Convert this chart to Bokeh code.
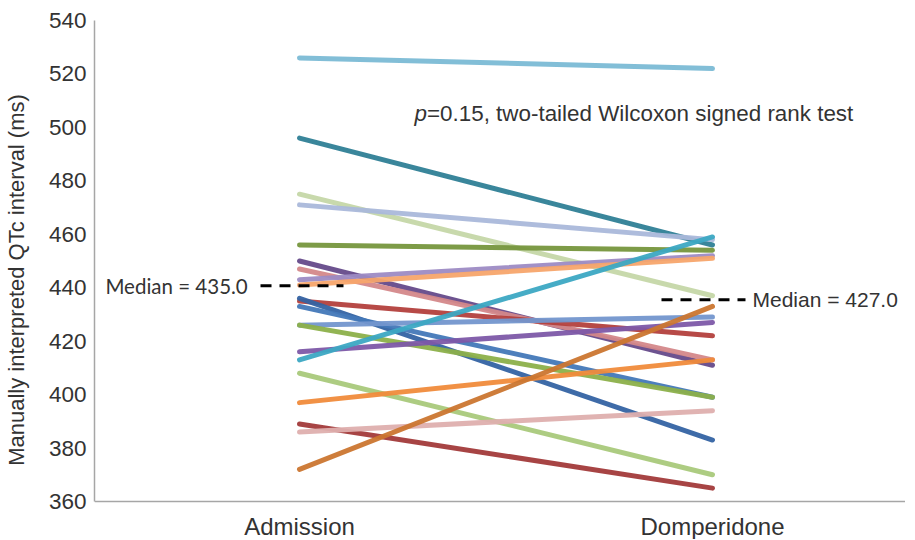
from bokeh.plotting import figure
from bokeh.models import Range1d, FixedTicker, Span
from bokeh.core.properties import value
from bokeh.embed import file_html
from bokeh.resources import INLINE

# ---- data ----
categories = ["Admission", "Domperidone"]
admission = [526, 496, 475, 471, 456, 450, 447, 443, 441, 435, 436, 433, 426, 426, 416, 413, 408, 397, 389, 386, 372]
domperidone = [522, 456, 437, 458, 454, 411, 413, 452, 451, 422, 383, 399, 429, 399, 427, 459, 370, 413, 365, 394, 433]
colors = ["#7bbad5", "#2f8096", "#c5d7a8", "#aab8da", "#76963d", "#654a8a", "#d4888a",
          "#9d8bc4", "#f7a56c", "#b3403d", "#3463a3", "#4378b8", "#7396cd", "#8cb04a",
          "#7d58a8", "#3ca8c3", "#a9c97b", "#f08b3b", "#a23a3a", "#deafae", "#cb7630"]
median_labels = ["Median = 435.0", "Median = 427.0"]
y_ticks = [360, 380, 400, 420, 440, 460, 480, 500, 520, 540]
annotation = "=0.15, two-tailed Wilcoxon signed rank test"

TXT = "#333333"
PX = 2.672            # pixels per ms
TOP = 20              # frame top
BOT = 501             # pixel row of 360 ms
H = 539
W = 905
LEFT = 94
X0 = 299              # pixel column of first category
XS = 413              # pixels between categories
y_bottom = 360 - (H - BOT) / PX

p = figure(width=W, height=H, output_backend="svg", toolbar_location=None,
           x_range=Range1d((LEFT - X0) / XS, (W - X0) / XS), y_range=Range1d(y_bottom, 540),
           x_axis_type=None, min_border_left=LEFT, min_border_right=0,
           min_border_top=TOP, min_border_bottom=0)
p.outline_line_color = None
p.grid.visible = False
p.background_fill_color = "white"
p.border_fill_color = "white"

ya = p.yaxis[0]
ya.ticker = FixedTicker(ticks=y_ticks)
ya.bounds = (360, 540)
ya.major_tick_line_color = None
ya.minor_tick_line_color = None
ya.major_tick_out = 0
ya.major_tick_in = 0
ya.minor_tick_out = 0
ya.axis_line_color = "#a6a6a6"
ya.axis_line_width = 1.5
ya.major_label_standoff = 8
ya.major_label_text_font = "Liberation Sans"
ya.major_label_text_font_size = "22.5px"
ya.major_label_text_color = TXT
ya.axis_label = "Manually interpreted QTc interval (ms)"
ya.axis_label_text_font = "Liberation Sans"
ya.axis_label_text_font_size = "22px"
ya.axis_label_text_font_style = "normal"
ya.axis_label_text_color = TXT
ya.axis_label_standoff = 17

# x axis baseline
p.add_layout(Span(location=360, dimension="width", line_color="#a6a6a6", line_width=1.5))

# paired lines
xs = [[0, 1] for _ in admission]
ys = [[a, d] for a, d in zip(admission, domperidone)]
p.multi_line(xs=xs, ys=ys, line_color=colors, line_width=5, line_cap="round", line_alpha=0.95)

# median dashed markers and labels
p.line(x=[-0.0944, 0.1065], y=[440.7, 440.7], line_color="black", line_width=3, line_dash="11 8")
p.line(x=[0.8765, 1.0799], y=[435.5, 435.5], line_color="black", line_width=3, line_dash="11 8")
p.text(x=[-0.4700], y=[440.7], text=[median_labels[0]], text_font=value("Lato"),
       text_font_size="20.5px", text_color=TXT, text_baseline="middle", text_align="left")
p.text(x=[1.0969], y=[435.5], text=[median_labels[1]], text_font=value("Liberation Sans"),
       text_font_size="21px", text_color=TXT, text_baseline="middle", text_align="left")

# p-value annotation
p.text(x=[0.2785], y=[505.2], text=["p"], text_font=value("Liberation Sans"),
       text_font_size="22.4px", text_font_style="italic", text_color=TXT,
       text_baseline="middle", text_align="left")
p.text(x=[0.2785], y=[505.2], x_offset=12.5, text=[annotation], text_font=value("Liberation Sans"),
       text_font_size="22.4px", text_color=TXT, text_baseline="middle", text_align="left")

# category labels (drawn inside the frame's lower band)
label_y = 360 - 25 / PX
p.text(x=[0, 1], y=[label_y, label_y], text=categories, text_font=value("Liberation Sans"),
       text_font_size="24px", text_color=TXT, text_baseline="middle", text_align="center")

open("out.html", "w").write(file_html(p, INLINE))
